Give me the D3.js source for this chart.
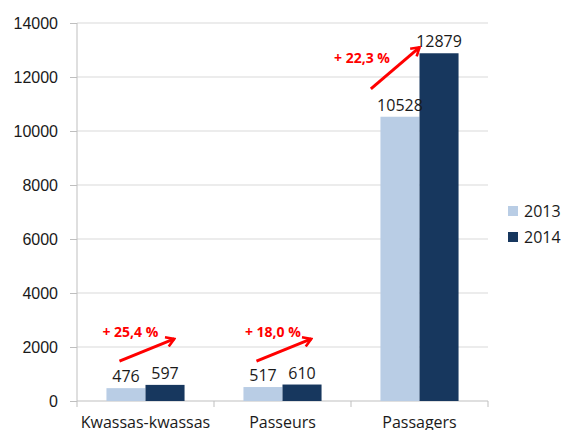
<html lang="fr">
<head>
  <meta charset="UTF-8" />
  <title>Kwassas-kwassas 2013 - 2014</title>
  <style>
    body, html { margin: 0; padding: 0; background: white; }
    svg { display: block; font-family: "Open Sans", sans-serif; }
    .grid line { stroke: #d9d9d9; }
    .axis path, .axis line { stroke: #bfbfbf; }
    .axis text { fill: #1a1a1a; font-size: 16px; }
    .val { fill: #1a1a1a; font-size: 16px; text-anchor: middle; }
    .pct { fill: #ff0000; font-size: 14px; font-weight: bold; text-anchor: middle; }
  </style>
</head>
<body>
  <div id="chart"></div>
  <script src="https://cdn.jsdelivr.net/npm/d3@7/dist/d3.min.js"></script>
  <script>
    // data
    const categories = ["Kwassas-kwassas", "Passeurs", "Passagers"];
    const years = ["2013", "2014"];
    const values2013 = [476, 517, 10528];
    const values2014 = [597, 610, 12879];
    const yTicks = [0, 2000, 4000, 6000, 8000, 10000, 12000, 14000];
    const pctLabels = ["+ 25,4 %", "+ 18,0 %", "+ 22,3 %"];
    // arrows: start/end as position inside the band (0..1) and a value on the y scale
    const arrowFrom = [[0.31, 1480], [0.31, 1480], [0.145, 11560]];
    const arrowTo = [[0.71, 2300], [0.71, 2300], [0.50, 13100]];
    const pctAt = [[0.39, 2370], [0.43, 2370], [0.08, 12530]];

    const colors = ["#b9cde5", "#17375e"];

    const w = 563, h = 430;
    const margin = { top: 23, right: 75, bottom: 29, left: 77 };
    const width = w - margin.left - margin.right;
    const height = h - margin.top - margin.bottom;

    const svg = d3.select("#chart").append("svg")
      .attr("width", w)
      .attr("height", h);

    svg.append("defs").append("marker")
      .attr("id", "head")
      .attr("viewBox", "0 0 12 12")
      .attr("refX", 10).attr("refY", 6)
      .attr("markerUnits", "userSpaceOnUse")
      .attr("markerWidth", 12).attr("markerHeight", 12)
      .attr("orient", "auto")
      .append("path")
      .attr("d", "M2,1 L10,6 L2,11")
      .attr("fill", "none")
      .attr("stroke", "#ff0000")
      .attr("stroke-width", 2.6)
      .attr("stroke-linejoin", "miter");

    const g = svg.append("g")
      .attr("transform", "translate(" + margin.left + "," + margin.top + ")");

    const x = d3.scaleBand().domain(categories).range([0, width]).paddingInner(0).paddingOuter(0);
    const xIn = d3.scaleBand().domain(years).range([x.bandwidth() * 0.215, x.bandwidth() * 0.785]);
    const y = d3.scaleLinear().domain([0, 14000]).range([height, 0]);

    // gridlines
    g.append("g").attr("class", "grid")
      .selectAll("line").data(yTicks.slice(1)).enter().append("line")
      .attr("x1", 0).attr("x2", width)
      .attr("y1", d => y(d)).attr("y2", d => y(d));

    // y axis
    g.append("g").attr("class", "axis")
      .call(d3.axisLeft(y).tickValues(yTicks).tickSize(7).tickPadding(12).tickFormat(d3.format("d")))
      .call(s => s.select(".domain").attr("d", "M0," + height + "V0"));

    // x axis with ticks at band edges
    const xAxis = g.append("g").attr("class", "axis")
      .attr("transform", "translate(0," + height + ")");
    xAxis.append("line").attr("x1", 0).attr("x2", width).attr("stroke", "#bfbfbf");
    xAxis.selectAll(".edge").data(d3.range(categories.length + 1)).enter().append("line")
      .attr("class", "edge")
      .attr("x1", i => i * x.step()).attr("x2", i => i * x.step())
      .attr("y1", 0).attr("y2", 6);
    xAxis.selectAll(".lab").data(categories).enter().append("text")
      .attr("class", "lab")
      .attr("x", d => x(d) + x.bandwidth() / 2)
      .attr("y", 27)
      .attr("text-anchor", "middle")
      .text(d => d);

    // bars
    const rows = categories.map((c, i) => ({ cat: c, vals: [values2013[i], values2014[i]] }));
    const groups = g.selectAll(".grp").data(rows).enter().append("g")
      .attr("class", "grp")
      .attr("transform", d => "translate(" + x(d.cat) + ",0)");

    groups.selectAll("rect").data(d => d.vals.map((v, j) => ({ year: years[j], v: v }))).enter()
      .append("rect")
      .attr("x", d => xIn(d.year))
      .attr("width", xIn.bandwidth())
      .attr("y", d => y(d.v))
      .attr("height", d => height - y(d.v))
      .attr("fill", (d, j) => colors[j]);

    groups.selectAll(".val").data(d => d.vals.map((v, j) => ({ year: years[j], v: v }))).enter()
      .append("text").attr("class", "val")
      .attr("x", d => xIn(d.year) + xIn.bandwidth() / 2)
      .attr("y", d => y(d.v) - 6)
      .text(d => d.v);

    // growth arrows
    categories.forEach((c, i) => {
      g.append("line")
        .attr("x1", x(c) + arrowFrom[i][0] * x.bandwidth())
        .attr("y1", y(arrowFrom[i][1]))
        .attr("x2", x(c) + arrowTo[i][0] * x.bandwidth())
        .attr("y2", y(arrowTo[i][1]))
        .attr("stroke", "#ff0000")
        .attr("stroke-width", 3)
        .attr("marker-end", "url(#head)");
      g.append("text").attr("class", "pct")
        .attr("x", x(c) + pctAt[i][0] * x.bandwidth())
        .attr("y", y(pctAt[i][1]))
        .text(pctLabels[i]);
    });

    // legend
    const legend = svg.append("g").attr("transform", "translate(508,206)");
    years.forEach((yr, i) => {
      const row = legend.append("g").attr("transform", "translate(0," + i * 26 + ")");
      row.append("rect").attr("width", 10).attr("height", 10).attr("fill", colors[i]);
      row.append("text").attr("x", 16).attr("y", 10.5)
        .style("font-size", "16px").attr("fill", "#1a1a1a").text(yr);
    });
  </script>
</body>
</html>
